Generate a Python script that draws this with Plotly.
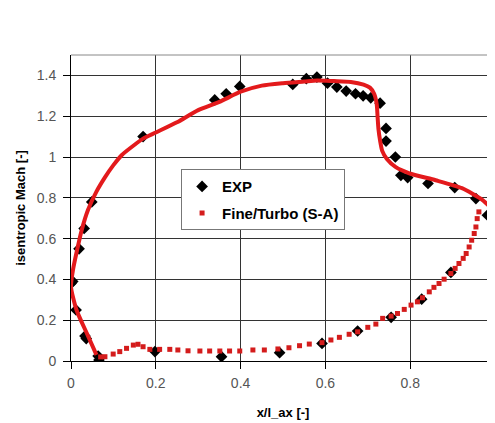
import plotly.graph_objects as go

# Experimental data (EXP)
exp_x = [0.004, 0.0, 0.019, 0.031, 0.049, 0.17, 0.339, 0.366, 0.398, 0.523, 0.555, 0.580,
         0.605, 0.627, 0.649, 0.671, 0.689, 0.707, 0.729, 0.743, 0.743, 0.765, 0.778,
         0.794, 0.842, 0.905, 0.955, 0.982,
         0.012, 0.033, 0.036, 0.064, 0.066, 0.198, 0.355, 0.492, 0.592, 0.676, 0.755,
         0.827, 0.896]
exp_y = [0.39, 0.38, 0.55, 0.65, 0.78, 1.10, 1.28, 1.31, 1.346, 1.356, 1.384, 1.392,
         1.362, 1.343, 1.323, 1.31, 1.30, 1.29, 1.264, 1.14, 1.078, 1.0, 0.91,
         0.899, 0.87, 0.85, 0.796, 0.715,
         0.25, 0.122, 0.11, 0.024, 0.005, 0.046, 0.021, 0.041, 0.086, 0.147, 0.214,
         0.303, 0.434]

# CFD (Fine/Turbo S-A), suction side (dense points)
cfd_ss_x = [0.06, 0.037, 0.013, 0.0, 0.005, 0.015, 0.025, 0.04, 0.06, 0.08, 0.10, 0.12,
            0.15, 0.17, 0.20, 0.25, 0.30, 0.35, 0.40, 0.45, 0.50, 0.55, 0.58, 0.62,
            0.66, 0.69, 0.705, 0.715, 0.721, 0.723, 0.725, 0.729, 0.734, 0.745, 0.766,
            0.798, 0.86, 0.922, 0.97, 1.0]
cfd_ss_y = [0.03, 0.137, 0.25, 0.364, 0.45, 0.55, 0.64, 0.74, 0.83, 0.90, 0.96, 1.01,
            1.06, 1.09, 1.12, 1.17, 1.23, 1.27, 1.32, 1.35, 1.362, 1.37, 1.375, 1.372,
            1.368, 1.355, 1.34, 1.31, 1.26, 1.2, 1.14, 1.08, 1.03, 0.99, 0.95,
            0.92, 0.886, 0.847, 0.79, 0.73]

# CFD pressure side (sparser points)
cfd_ps_x = [0.962, 0.958, 0.955, 0.951, 0.945, 0.939, 0.932, 0.925, 0.915, 0.906, 0.896,
            0.880, 0.868, 0.856, 0.845, 0.829, 0.817, 0.802, 0.786, 0.770, 0.755, 0.735,
            0.719, 0.700, 0.676, 0.656, 0.633, 0.613, 0.592, 0.562, 0.539, 0.514, 0.488,
            0.456, 0.429, 0.398, 0.374, 0.351, 0.327, 0.304, 0.276, 0.252, 0.233, 0.209,
            0.186, 0.170, 0.158, 0.147, 0.131, 0.115, 0.0995, 0.080, 0.07]
cfd_ps_y = [0.731, 0.698, 0.657, 0.625, 0.592, 0.559, 0.527, 0.503, 0.478, 0.454, 0.429,
            0.401, 0.380, 0.361, 0.339, 0.310, 0.290, 0.274, 0.253, 0.233, 0.220, 0.209,
            0.181, 0.165, 0.143, 0.131, 0.116, 0.103, 0.090, 0.083, 0.075, 0.065, 0.059,
            0.054, 0.054, 0.049, 0.049, 0.049, 0.049, 0.049, 0.050, 0.054, 0.057, 0.057,
            0.057, 0.070, 0.082, 0.078, 0.062, 0.046, 0.034, 0.021, 0.02]

x_ticks = [0, 0.2, 0.4, 0.6, 0.8, 1]
x_labels = ["0", "0.2", "0.4", "0.6", "0.8", "1"]
y_ticks = [0, 0.2, 0.4, 0.6, 0.8, 1.0, 1.2, 1.4]
y_labels = ["0", "0.2", "0.4", "0.6", "0.8", "1", "1.2", "1.4"]

RED = "#e31a1c"
fig = go.Figure()
fig.add_trace(go.Scatter(
    x=exp_x, y=exp_y, mode="markers", name="EXP",
    marker=dict(symbol="diamond", size=9, color="black"),
    legendrank=1, legendgroup="a"))
fig.add_trace(go.Scatter(
    x=cfd_ss_x, y=cfd_ss_y, mode="lines", showlegend=False,
    line=dict(color=RED, width=4, shape="spline", smoothing=0.6)))
fig.add_trace(go.Scatter(
    x=cfd_ps_x, y=cfd_ps_y, mode="markers", name="Fine/Turbo (S-A)",
    marker=dict(symbol="square", size=5, color="#d41c1c"),
    legendrank=2, legendgroup="b"))

font_fam = "Liberation Sans, Arial, sans-serif"
fig.update_layout(
    width=487, height=415,
    margin=dict(l=63, r=0, t=47, b=62),
    paper_bgcolor="white", plot_bgcolor="white",
    font=dict(family=font_fam, size=13, color="#333333"),
    showlegend=True,
    legend=dict(x=0.453, y=0.627, xanchor="center", yanchor="top",
                bgcolor="white", bordercolor="#777777", borderwidth=1,
                font=dict(family=font_fam, size=15, color="black", weight="bold"),
                traceorder="grouped", tracegroupgap=4, itemwidth=30),
    xaxis=dict(range=[0, 1], tickvals=x_ticks, ticktext=x_labels,
               showgrid=True, gridcolor="#333333", gridwidth=1,
               zeroline=False, showline=True, linecolor="black", linewidth=1,
               ticks="outside", ticklen=7, tickcolor="black", automargin=False,
               ticklabelstandoff=2, ticklabeloverflow="allow",
               tickfont=dict(size=14, color="#555555"),
               title=dict(text="x/l_ax [-]", standoff=18,
                          font=dict(size=13, color="black", weight="bold"))),
    yaxis=dict(range=[0, 1.5], tickvals=y_ticks, ticktext=y_labels,
               showgrid=True, gridcolor="#333333", gridwidth=1,
               zeroline=False, showline=True, linecolor="black", linewidth=1,
               ticks="outside", ticklen=7, tickcolor="black", automargin=False,
               ticklabelstandoff=4,
               tickfont=dict(size=14, color="#555555"),
               title=dict(text="isentropic Mach [-]", standoff=8,
                          font=dict(size=13, color="black", weight="bold"))),
    shapes=[dict(type="line", xref="paper", yref="paper", x0=0, x1=1, y0=1, y1=1,
                 line=dict(color="#888888", width=1))],
)

fig.write_html("out.html")
